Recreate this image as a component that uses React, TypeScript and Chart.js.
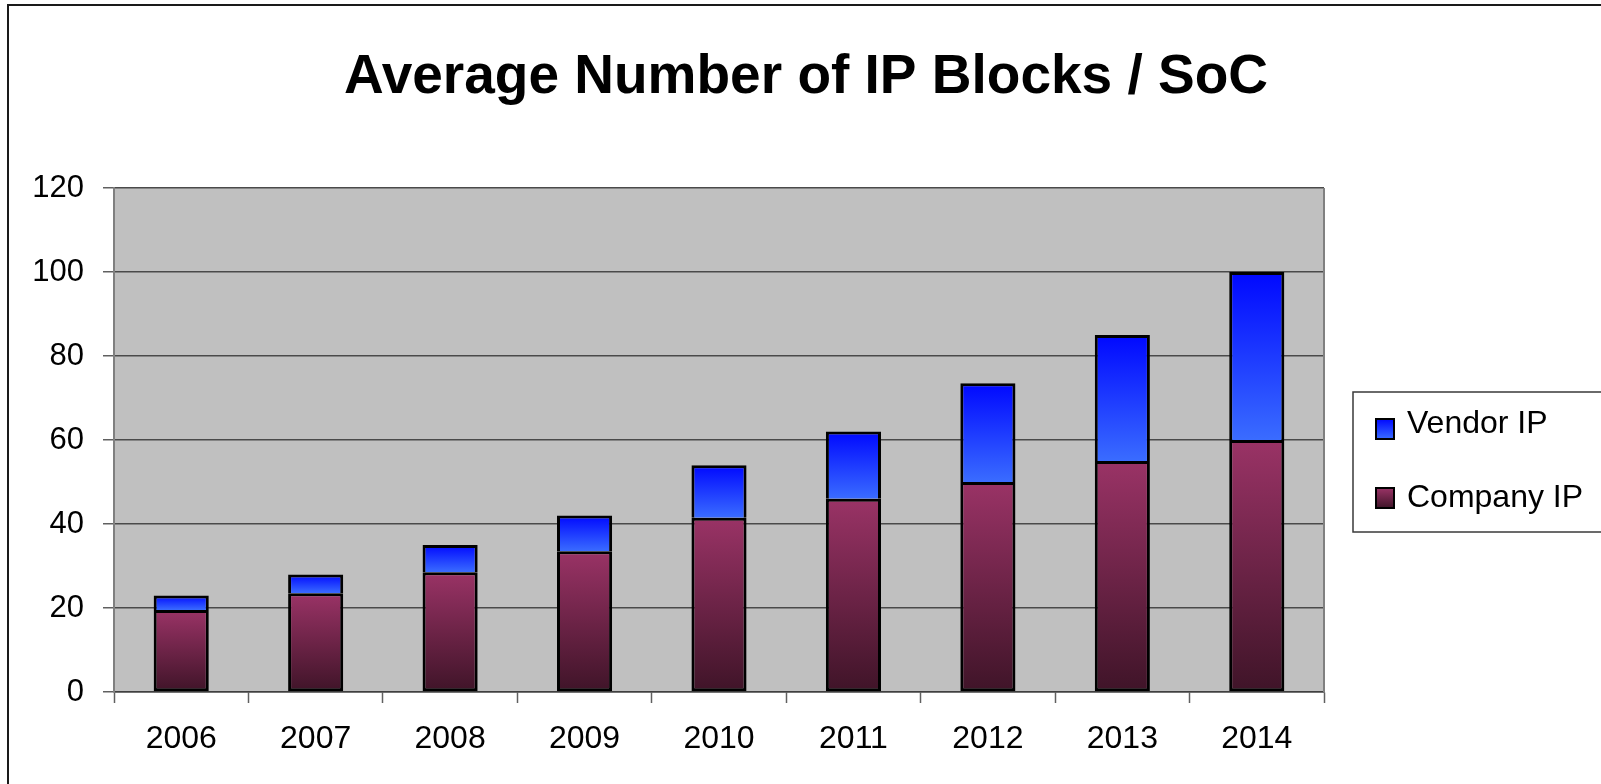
import React, { useEffect, useRef } from "react";
import { Chart, registerables } from "chart.js";

Chart.register(...registerables);

const years = ["2006", "2007", "2008", "2009", "2010", "2011", "2012", "2013", "2014"];
const companyIP = [19.5, 23.5, 28.5, 33.5, 41.5, 46, 50, 55, 60];
const vendorIP = [3.5, 4.5, 6.5, 8.5, 12.5, 16, 23.5, 30, 40];
const seriesNames = ["Company IP", "Vendor IP"];
const titleText = "Average Number of IP Blocks / SoC";
const yMin = 0;
const yMax = 120;
const yStep = 20;

const FONT = '"Liberation Sans", Arial, sans-serif';
const W = 1601;
const H = 784;

const companyTop = "#9a3366";
const companyBottom = "#3f1428";
const vendorTop = "#0008ff";
const vendorBottom = "#3a6cff";

function gradientFor(ctx: any, datasetIndex: number) {
  const chart = ctx.chart;
  const { chartArea, scales } = chart;
  const fallback = datasetIndex === 0 ? companyTop : vendorTop;
  if (!chartArea || !scales || !scales.y || ctx.type !== "data") return fallback;
  const i = ctx.dataIndex;
  const base = datasetIndex === 0 ? 0 : companyIP[i];
  const top = base + (datasetIndex === 0 ? companyIP[i] : vendorIP[i]);
  const y0 = scales.y.getPixelForValue(base);
  const y1 = scales.y.getPixelForValue(top);
  if (!isFinite(y0) || !isFinite(y1) || y0 === y1) return fallback;
  const g = chart.ctx.createLinearGradient(0, y1, 0, y0);
  if (datasetIndex === 0) {
    g.addColorStop(0, companyTop);
    g.addColorStop(1, companyBottom);
  } else {
    g.addColorStop(0, vendorTop);
    g.addColorStop(1, vendorBottom);
  }
  return g;
}

const decorPlugin = {
  id: "decor",
  beforeDraw(chart: any) {
    const c = chart.ctx;
    const a = chart.chartArea;
    c.save();
    c.fillStyle = "#ffffff";
    c.fillRect(0, 0, chart.width, chart.height);
    // outer frame
    c.strokeStyle = "#1a1a1a";
    c.lineWidth = 2;
    c.strokeRect(8, 5, chart.width + 20, chart.height + 20);
    // plot background
    c.fillStyle = "#c0c0c0";
    c.fillRect(a.left, a.top, a.right - a.left, a.bottom - a.top);
    // title
    c.fillStyle = "#000000";
    c.font = `bold 55px ${FONT}`;
    c.textAlign = "center";
    c.textBaseline = "alphabetic";
    c.fillText(titleText, 806, 93);
    c.restore();
  },
  afterDraw(chart: any) {
    const c = chart.ctx;
    const a = chart.chartArea;
    c.save();
    // plot right border
    c.strokeStyle = "#808080";
    c.lineWidth = 2;
    c.beginPath();
    c.moveTo(a.right, a.top);
    c.lineTo(a.right, a.bottom);
    c.stroke();
    // legend box
    c.strokeStyle = "#3a3a3a";
    c.lineWidth = 1.5;
    c.fillStyle = "#ffffff";
    c.fillRect(1353, 392, 300, 140);
    c.strokeRect(1353, 392, 300, 140);
    const items = [
      { label: seriesNames[1], top: vendorTop, bottom: vendorBottom, sq: 429, ty: 424.5 },
      { label: seriesNames[0], top: companyTop, bottom: companyBottom, sq: 498, ty: 498 },
    ];
    for (const it of items) {
      const g = c.createLinearGradient(0, it.sq - 10, 0, it.sq + 10);
      g.addColorStop(0, it.top);
      g.addColorStop(1, it.bottom);
      c.fillStyle = g;
      c.fillRect(1376, it.sq - 10, 18, 20);
      c.strokeStyle = "#000000";
      c.lineWidth = 2;
      c.strokeRect(1376, it.sq - 10, 18, 20);
      c.fillStyle = "#000000";
      c.font = `32px ${FONT}`;
      c.textAlign = "left";
      c.textBaseline = "middle";
      c.fillText(it.label, 1407, it.ty);
    }
    c.restore();
  },
};

export default function App() {
  const ref = useRef<HTMLCanvasElement | null>(null);
  useEffect(() => {
    if (!ref.current) return;
    const chart = new Chart(ref.current, {
      type: "bar",
      data: {
        labels: years,
        datasets: [
          {
            label: seriesNames[0],
            data: companyIP,
            backgroundColor: (ctx: any) => gradientFor(ctx, 0),
            borderColor: "#000000",
            borderWidth: 3,
            borderSkipped: false,
            categoryPercentage: 1,
            barPercentage: 0.41,
          },
          {
            label: seriesNames[1],
            data: vendorIP,
            backgroundColor: (ctx: any) => gradientFor(ctx, 1),
            borderColor: "#000000",
            borderWidth: 3,
            borderSkipped: "start",
            categoryPercentage: 1,
            barPercentage: 0.41,
          },
        ],
      },
      options: {
        responsive: false,
        animation: false,
        devicePixelRatio: 1,
        layout: { padding: { left: 0, top: 188, right: W - 1324, bottom: 0 } },
        plugins: {
          legend: { display: false },
          title: { display: false },
          tooltip: { enabled: false },
        },
        scales: {
          x: {
            stacked: true,
            grid: {
              offset: true,
              drawOnChartArea: false,
              drawTicks: true,
              tickLength: 11,
              tickColor: "#606060",
              tickWidth: 1.5,
            },
            border: { display: true, color: "#404040", width: 1.5 },
            ticks: {
              color: "#000000",
              font: { family: FONT, size: 32 },
              padding: 17,
              maxRotation: 0,
            },
            afterFit: (s: any) => {
              s.height = H - 692;
            },
          },
          y: {
            stacked: true,
            min: yMin,
            max: yMax,
            ticks: {
              stepSize: yStep,
              color: "#000000",
              font: { family: FONT, size: 31 },
              padding: 19,
            },
            grid: {
              color: "#4a4a4a",
              lineWidth: 1.5,
              drawTicks: true,
              tickLength: 11,
              tickColor: "#606060",
            },
            border: { display: true, color: "#808080", width: 2 },
            afterFit: (s: any) => {
              s.width = 114;
            },
          },
        },
      },
      plugins: [decorPlugin],
    });
    return () => chart.destroy();
  }, []);
  return (
    <div style={{ position: "fixed", left: 0, top: 0, width: W, height: H, overflow: "hidden" }}>
      <canvas ref={ref} width={W} height={H} style={{ display: "block", width: W, height: H }} />
    </div>
  );
}
